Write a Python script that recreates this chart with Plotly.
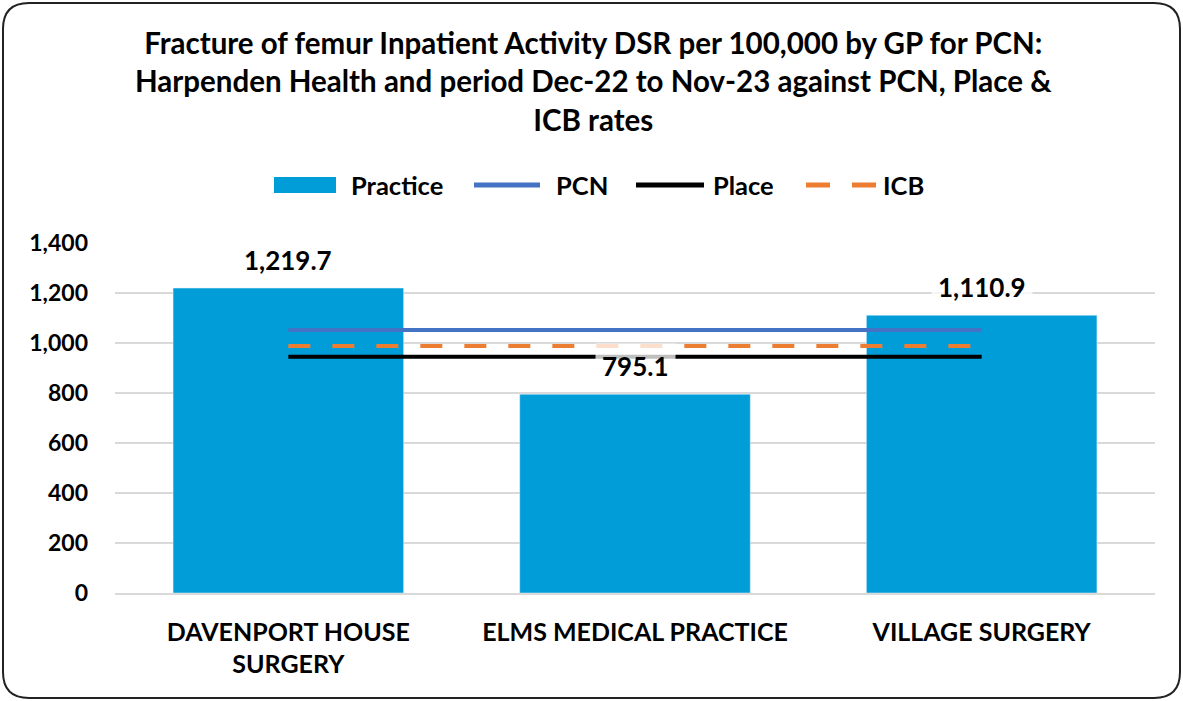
import plotly.graph_objects as go

categories = ["DAVENPORT HOUSE<br>SURGERY", "ELMS MEDICAL PRACTICE", "VILLAGE SURGERY"]
practice = [1219.7, 795.1, 1110.9]
pcn = [1052, 1052, 1052]
place = [945, 945, 945]
icb = [988, 988, 988]
label_text = ["1,219.7", "795.1", "1,110.9"]
ytick_vals = [0, 200, 400, 600, 800, 1000, 1200, 1400]
ytick_text = ["0", "200", "400", "600", "800", "1,000", "1,200", "1,400"]

FONT = "Lato"
W, H = 1183, 701
L, R, T, B = 115, 28, 243, 108
PW, PH = W - L - R, H - T - B

def px(x):
    return (x - L) / PW

def py(y):
    return (H - B - y) / PH

fig = go.Figure()
fig.add_trace(go.Bar(x=categories, y=practice, name="Practice", marker_color="#009DD9",
                     showlegend=False))
fig.add_trace(go.Scatter(x=categories, y=pcn, name="PCN", mode="lines",
                         line=dict(color="#4472C4", width=4), showlegend=False))
fig.add_trace(go.Scatter(x=categories, y=place, name="Place", mode="lines",
                         line=dict(color="#000000", width=4), showlegend=False))
fig.add_trace(go.Scatter(x=categories, y=icb, name="ICB", mode="lines",
                         line=dict(color="#ED7D31", width=4, dash="22px,22px"), showlegend=False))

annotations = []
for c, v, t in zip(categories, practice, label_text):
    annotations.append(dict(x=c, y=v, xref="x", yref="y", text="<b>%s</b>" % t, showarrow=False,
                            yanchor="middle", yshift=28, bgcolor="rgba(255,255,255,0.75)",
                            borderpad=6, font=dict(family=FONT, size=26, color="#000000")))

# title
annotations.append(dict(x=px(593), y=py(81), xref="paper", yref="paper", showarrow=False,
                        xanchor="center", yanchor="middle",
                        text="<b>Fracture of femur Inpatient Activity DSR per 100,000 by GP for PCN:<br>"
                             "Harpenden Health and period Dec-22 to Nov-23 against PCN, Place &<br>"
                             "ICB rates</b>",
                        font=dict(family=FONT, size=29.5, color="#000000")))

# manual legend
shapes = []
legend_y = 185
shapes.append(dict(type="rect", xref="paper", yref="paper", x0=px(274), x1=px(336),
                   y0=py(legend_y - 8), y1=py(legend_y + 8), fillcolor="#009DD9", line=dict(width=0)))
shapes.append(dict(type="line", xref="paper", yref="paper", x0=px(474), x1=px(540),
                   y0=py(legend_y), y1=py(legend_y), line=dict(color="#4472C4", width=5)))
shapes.append(dict(type="line", xref="paper", yref="paper", x0=px(636), x1=px(704),
                   y0=py(legend_y), y1=py(legend_y), line=dict(color="#000000", width=5)))
shapes.append(dict(type="line", xref="paper", yref="paper", x0=px(806), x1=px(830),
                   y0=py(legend_y), y1=py(legend_y), line=dict(color="#ED7D31", width=5)))
shapes.append(dict(type="line", xref="paper", yref="paper", x0=px(852), x1=px(876),
                   y0=py(legend_y), y1=py(legend_y), line=dict(color="#ED7D31", width=5)))
for xx, t in [(349, "Practice"), (554, "PCN"), (711, "Place"), (881, "ICB")]:
    annotations.append(dict(x=px(xx), y=py(legend_y), xref="paper", yref="paper", showarrow=False,
                            xanchor="left", yanchor="middle", text="<b>%s</b>" % t,
                            font=dict(family=FONT, size=25.5, color="#000000")))

# rounded border
x0, x1, y0, y1, r = 3, 1180, 3, 698, 26
path = ("M {a},{b} L {c},{b} Q {e},{b} {e},{f} L {e},{g} Q {e},{h} {c},{h} "
        "L {a},{h} Q {i},{h} {i},{g} L {i},{f} Q {i},{b} {a},{b} Z").format(
    a=px(x0 + r), b=py(y0), c=px(x1 - r), e=px(x1), f=py(y0 + r), g=py(y1 - r),
    h=py(y1), i=px(x0))
shapes.append(dict(type="path", xref="paper", yref="paper", path=path,
                   line=dict(color="#222222", width=2), fillcolor="rgba(0,0,0,0)", layer="below"))

fig.update_layout(
    width=W, height=H,
    margin=dict(l=L, r=R, t=T, b=B),
    paper_bgcolor="#ffffff", plot_bgcolor="#ffffff",
    bargap=0.335,
    showlegend=False,
    annotations=annotations,
    shapes=shapes,
    font=dict(family=FONT, color="#000000"),
)
fig.update_yaxes(range=[0, 1400], tickvals=ytick_vals, ticktext=["<b>%s</b>" % t for t in ytick_text],
                 showgrid=True, gridcolor="#d9d9d9", gridwidth=1.5, zeroline=False,
                 tickfont=dict(family=FONT, size=23, color="#000000"), ticklabelstandoff=26)
fig.update_xaxes(tickvals=categories, ticktext=["<b>%s</b>" % c for c in categories],
                 tickfont=dict(family=FONT, size=25, color="#000000"), ticklabelstandoff=16,
                 showline=True, linecolor="#d9d9d9", linewidth=1.5)

fig.write_html("out.html", config={"displayModeBar": False},
               post_script="document.body.style.margin='0px';")
